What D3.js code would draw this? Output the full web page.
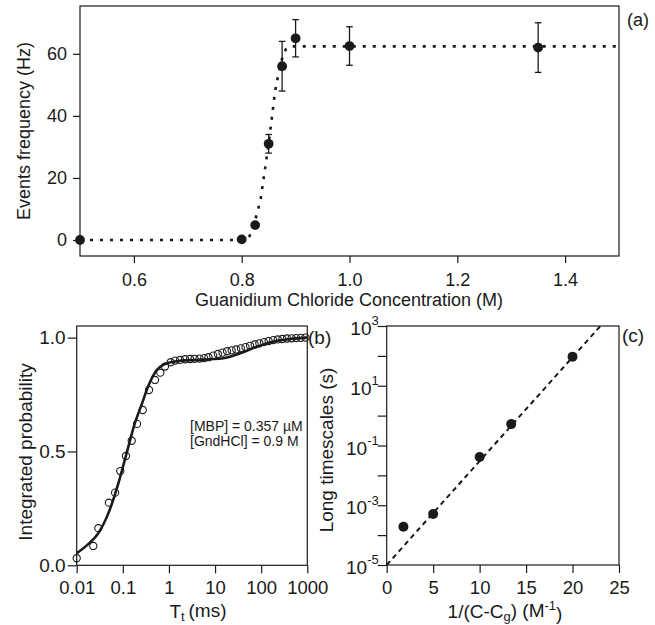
<!DOCTYPE html>
<html>
<head>
<meta charset="utf-8">
<script src="https://cdn.jsdelivr.net/npm/d3@7"></script>
<style>
  body { margin: 0; background: #fff; }
  svg text { font-family: "Liberation Sans", Arial, sans-serif; fill: #1a1a1a; }
  .axis line { stroke: #1a1a1a; stroke-width: 1.2; }
  .axis path { display: none; }
  .frame { fill: none; stroke: #1a1a1a; stroke-width: 1.2; }
</style>
</head>
<body>
<div id="fig"></div>
<script>
// (a) events frequency vs GdnHCl concentration
var concM   = [0.5, 0.8, 0.825, 0.85, 0.875, 0.9, 1.0, 1.35],
    freqHz  = [0, 0.2, 4.8, 31, 56, 65, 62.5, 62],
    freqErr = [0, 0, 0, 3, 8, 6, 6.2, 8];
var fitConc = [0.5, 0.8, 0.812, 0.82, 0.835, 0.85, 0.862, 0.872, 0.882, 0.89, 1.5],
    fitFreq = [0, 0, 0.5, 3, 13, 31, 48, 57, 61.5, 62.4, 62.4];
var concTicks = [0.6, 0.8, 1.0, 1.2, 1.4],
    freqTicks = [0, 20, 40, 60];

// (b) integrated probability of translocation times
var tMs   = [0.01, 0.0229, 0.0294, 0.05, 0.068, 0.088, 0.117, 0.156, 0.203, 0.27,
             0.37, 0.5, 0.65, 0.82, 1.09, 1.36, 1.74, 2.24, 2.87, 3.6,
             4.6, 5.8, 7.2, 9.1, 11.5, 14.5, 18.2, 22.9, 28.8, 36.3,
             45.7, 57.5, 72.4, 91.2, 115, 145, 182, 229, 288, 363,
             457, 575, 724, 912],
    probT = [0.031, 0.085, 0.163, 0.275, 0.319, 0.414, 0.48, 0.547, 0.621, 0.682,
             0.77, 0.814, 0.846, 0.873, 0.892, 0.899, 0.902, 0.905, 0.906, 0.907,
             0.908, 0.91, 0.914, 0.921, 0.928, 0.934, 0.94, 0.944, 0.948, 0.953,
             0.958, 0.964, 0.97, 0.975, 0.98, 0.985, 0.989, 0.992, 0.994, 0.996,
             0.997, 0.998, 0.999, 1.0];
var fitT    = [0.01, 0.018, 0.0294, 0.0485, 0.08, 0.12, 0.18, 0.26, 0.36, 0.54,
               0.82, 1.36, 3.7, 8, 15, 35, 80, 180, 430, 1000],
    fitProb = [0.053, 0.094, 0.141, 0.228, 0.36, 0.49, 0.62, 0.71, 0.79, 0.857,
               0.884, 0.895, 0.902, 0.905, 0.909, 0.931, 0.96, 0.982, 0.994, 1.0];
var tTicks = [0.01, 0.1, 1, 10, 100, 1000],
    tTickLabels = ["0.01", "0.1", "1", "10", "100", "1000"],
    probTicks = [0, 0.5, 1.0];

// (c) long timescales vs 1/(C-Cg)
var invC   = [1.8, 5, 10, 13.4, 20],
    tauS   = [1.9e-4, 5.1e-4, 0.041, 0.52, 94];
var lineInvC = [0, 23],
    lineTau  = [1e-5, 1e3];
var invTicks = [0, 5, 10, 15, 20, 25],
    tauTicks = [1e-5, 1e-4, 1e-3, 1e-2, 1e-1, 1, 10, 100, 1000];

var ink = "#1a1a1a";

var svg = d3.select("#fig").append("svg")
    .attr("width", 655)
    .attr("height", 625);

// ---------- panel (a) ----------
var xa = d3.scaleLinear().domain([0.5, 1.5]).range([80, 619]),
    ya = d3.scaleLinear().domain([-5.15, 75.4]).range([256, 6]);

var ga = svg.append("g");

ga.append("g")
    .attr("class", "axis")
    .attr("transform", translate(0, 256))
    .call(d3.axisBottom(xa).tickValues(concTicks).tickFormat(d3.format(".1f"))
      .tickSize(7).tickPadding(10))
    .selectAll("text").style("font-size", "18px");

ga.append("g")
    .attr("class", "axis")
    .attr("transform", translate(80, 0))
    .call(d3.axisLeft(ya).tickValues(freqTicks).tickSize(7).tickPadding(6))
    .selectAll("text").style("font-size", "18px");

ga.append("rect").attr("class", "frame")
    .attr("x", 80).attr("y", 6).attr("width", 539).attr("height", 250);

var fitA = fitConc.map(function(c, i) { return [c, fitFreq[i]]; });
ga.append("path")
    .datum(fitA)
    .attr("fill", "none")
    .attr("stroke", ink)
    .attr("stroke-width", 2.6)
    .attr("stroke-dasharray", "3,7")
    .attr("d", d3.line().x(function(d) { return xa(d[0]); }).y(function(d) { return ya(d[1]); }));

var ptsA = concM.map(function(c, i) { return { x: c, y: freqHz[i], e: freqErr[i] }; });
var errA = ga.selectAll(".err").data(ptsA.filter(function(d) { return d.e > 0; }))
  .enter().append("g").attr("class", "err")
    .attr("stroke", ink).attr("stroke-width", 1.3);
errA.append("line")
    .attr("x1", function(d) { return xa(d.x); }).attr("x2", function(d) { return xa(d.x); })
    .attr("y1", function(d) { return ya(d.y - d.e); }).attr("y2", function(d) { return ya(d.y + d.e); });
[-1, 1].forEach(function(s) {
  errA.append("line")
    .attr("x1", function(d) { return xa(d.x) - 3.3; }).attr("x2", function(d) { return xa(d.x) + 3.3; })
    .attr("y1", function(d) { return ya(d.y + s * d.e); }).attr("y2", function(d) { return ya(d.y + s * d.e); });
});

ga.selectAll(".dot").data(ptsA)
  .enter().append("circle")
    .attr("cx", function(d) { return xa(d.x); })
    .attr("cy", function(d) { return ya(d.y); })
    .attr("r", 4.9)
    .attr("fill", ink);

ga.append("text")
    .attr("x", 349).attr("y", 306)
    .attr("text-anchor", "middle")
    .style("font-size", "18px")
    .text("Guanidium Chloride Concentration (M)");

ga.append("text")
    .attr("transform", "translate(30,131) rotate(-90)")
    .attr("text-anchor", "middle")
    .style("font-size", "18px")
    .text("Events frequency (Hz)");

ga.append("text")
    .attr("x", 627).attr("y", 26)
    .style("font-size", "18px")
    .text("(a)");

// ---------- panel (b) ----------
var xb = d3.scaleLog().domain([0.01, 1000]).range([76.7, 307.3]),
    yb = d3.scaleLinear().domain([0, 1.051]).range([565.3, 326]);

var gb = svg.append("g");

gb.append("g")
    .attr("class", "axis")
    .attr("transform", translate(0, 565.3))
    .call(d3.axisBottom(xb).tickValues(tTicks)
      .tickFormat(function(d, i) { return tTickLabels[i]; })
      .tickSize(8).tickPadding(8))
    .selectAll("text").style("font-size", "18.5px");

gb.append("g")
    .attr("class", "axis")
    .attr("transform", translate(76.7, 0))
    .call(d3.axisLeft(yb).tickValues(probTicks).tickFormat(d3.format(".1f"))
      .tickSize(9).tickPadding(2))
    .selectAll("text").style("font-size", "19px");

gb.append("rect").attr("class", "frame")
    .attr("x", 76.7).attr("y", 326).attr("width", 230.6).attr("height", 239.3);

var fitB = fitT.map(function(t, i) { return [t, fitProb[i]]; });
gb.append("path")
    .datum(fitB)
    .attr("fill", "none")
    .attr("stroke", ink)
    .attr("stroke-width", 2.6)
    .attr("d", d3.line().curve(d3.curveMonotoneX)
      .x(function(d) { return xb(d[0]); }).y(function(d) { return yb(d[1]); }));

gb.selectAll(".ring").data(tMs)
  .enter().append("circle")
    .attr("cx", function(d) { return xb(d); })
    .attr("cy", function(d, i) { return yb(probT[i]); })
    .attr("r", 3.6)
    .attr("fill", "none")
    .attr("stroke", ink)
    .attr("stroke-width", 1.1);

var note = gb.append("text").style("font-size", "14px");
note.append("tspan").attr("x", 190).attr("y", 431).text("[MBP] = 0.357 \u00b5M");
note.append("tspan").attr("x", 190).attr("y", 446).text("[GndHCl] = 0.9 M");

var xbLab = gb.append("text")
    .attr("x", 198).attr("y", 618)
    .attr("text-anchor", "middle")
    .style("font-size", "19px");
xbLab.append("tspan").text("T");
xbLab.append("tspan").attr("dy", "0.25em").style("font-size", "13px").text("t");
xbLab.append("tspan").attr("dy", "-0.25em").text("\u2009(ms)");

gb.append("text")
    .attr("transform", "translate(32,452) rotate(-90)")
    .attr("text-anchor", "middle")
    .style("font-size", "19px")
    .text("Integrated probability");

gb.append("text")
    .attr("x", 308).attr("y", 344)
    .style("font-size", "19px")
    .text("(b)");

// ---------- panel (c) ----------
var xc = d3.scaleLinear().domain([0, 25]).range([386.7, 619]),
    yc = d3.scaleLog().domain([1e-5, 1e3]).range([565, 326]);

var gc = svg.append("g");

gc.append("g")
    .attr("class", "axis")
    .attr("transform", translate(0, 565))
    .call(d3.axisBottom(xc).tickValues(invTicks).tickSize(8).tickPadding(8))
    .selectAll("text").style("font-size", "18.5px");

var ycAxis = gc.append("g")
    .attr("class", "axis")
    .attr("transform", translate(386.7, 0))
    .call(d3.axisLeft(yc).tickValues(tauTicks).tickFormat("").tickSize(9));

// superscript labels on odd decades only
ycAxis.selectAll(".tick").each(function(d) {
  var p = Math.round(Math.log10(d));
  if (Math.abs(p) % 2 !== 1) return;
  var t = d3.select(this).append("text")
      .attr("x", -8).attr("y", 0).attr("dy", "0.45em")
      .attr("text-anchor", "end")
      .style("font-size", "19px")
      .attr("fill", ink);
  t.append("tspan").text("10");
  t.append("tspan").attr("dy", "-0.75em").style("font-size", "13px").text(p);
});

gc.append("rect").attr("class", "frame")
    .attr("x", 386.7).attr("y", 326).attr("width", 232.3).attr("height", 239);

var lineC = lineInvC.map(function(v, i) { return [v, lineTau[i]]; });
gc.append("path")
    .datum(lineC)
    .attr("fill", "none")
    .attr("stroke", ink)
    .attr("stroke-width", 2)
    .attr("stroke-dasharray", "5,4")
    .attr("d", d3.line().x(function(d) { return xc(d[0]); }).y(function(d) { return yc(d[1]); }));

gc.selectAll(".dot").data(invC)
  .enter().append("circle")
    .attr("cx", function(d) { return xc(d); })
    .attr("cy", function(d, i) { return yc(tauS[i]); })
    .attr("r", 5)
    .attr("fill", ink);

var xcLab = gc.append("text")
    .attr("x", 505).attr("y", 618)
    .attr("text-anchor", "middle")
    .style("font-size", "19px");
xcLab.append("tspan").text("1/(C-C");
xcLab.append("tspan").attr("dy", "0.25em").style("font-size", "13px").text("g");
xcLab.append("tspan").attr("dy", "-0.25em").text(") (M");
xcLab.append("tspan").attr("dy", "-0.5em").style("font-size", "13px").text("-1");
xcLab.append("tspan").attr("dy", "0.5em").text(")");

gc.append("text")
    .attr("transform", "translate(333,450) rotate(-90)")
    .attr("text-anchor", "middle")
    .style("font-size", "19px")
    .text("Long timescales (s)");

gc.append("text")
    .attr("x", 622).attr("y", 342)
    .style("font-size", "19px")
    .text("(c)");

function translate(x, y) {
  return "translate(" + x + "," + y + ")";
}
</script>
</body>
</html>
